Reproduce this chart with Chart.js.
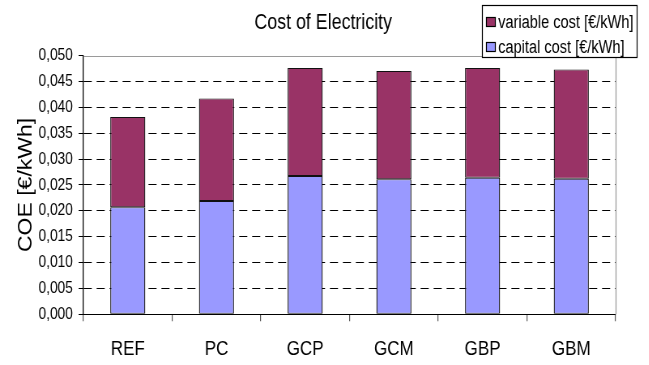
<!DOCTYPE html>
<html>
<head>
<meta charset="utf-8">
<script src="https://cdn.jsdelivr.net/npm/chart.js@4/dist/chart.umd.min.js"></script>
<style>
  body { margin: 0; background: #fff; }
  #wrap { width: 649px; height: 365px; overflow: hidden; }
  /* the original export is squeezed sideways, so draw wide and squeeze */
  #coeChart { transform: scaleX(0.81); transform-origin: 0 0; }
</style>
</head>
<body>
<div id="wrap"><canvas id="coeChart" width="801" height="365"></canvas></div>
<script>
// values (EUR per kWh)
var plants = ["REF", "PC", "GCP", "GCM", "GBP", "GBM"];
var capitalCost = [0.0207, 0.0219, 0.0267, 0.0261, 0.0264, 0.0262];
var variableCost = [0.0174, 0.0198, 0.0209, 0.0209, 0.0212, 0.0211];
var yTicks = [0, 0.005, 0.010, 0.015, 0.020, 0.025, 0.030, 0.035, 0.040, 0.045, 0.050];

var FONT = "'Liberation Sans', Arial, sans-serif";

// excel style title + boxed legend
var excelBits = {
    id: "excelBits",
    afterDraw: function(chart){
        var ctx = chart.ctx;
        ctx.save();
        ctx.fillStyle = "#000";
        ctx.font = "22px " + FONT;
        ctx.textAlign = "center";
        ctx.textBaseline = "middle";
        ctx.fillText("Cost of Electricity", 399, 23);

        // legend box
        var bx = 595, by = 5, bw = 191, bh = 52;
        ctx.fillStyle = "#fff";
        ctx.fillRect(bx, by, bw, bh);
        ctx.strokeStyle = "#000";
        ctx.lineWidth = 1.2;
        ctx.strokeRect(bx + 0.5, by + 0.5, bw, bh);
        var items = [
            {label: "variable cost [\u20ac/kWh]", color: "#993366"},
            {label: "capital cost [\u20ac/kWh]", color: "#9999FF"}
        ];
        ctx.font = "18px " + FONT;
        ctx.textAlign = "left";
        items.forEach(function(it, i){
            var y = by + 17 + i * 25;
            ctx.fillStyle = it.color;
            ctx.fillRect(bx + 5, y - 5, 12, 10);
            ctx.strokeStyle = "#000";
            ctx.lineWidth = 1.2;
            ctx.strokeRect(bx + 5.5, y - 4.5, 11, 9);
            ctx.fillStyle = "#000";
            ctx.fillText(it.label, bx + 20, y + 1);
        });
        ctx.restore();
    }
};

// gray top and right border of the plot area
var plotFrame = {
    id: "plotFrame",
    beforeDatasetsDraw: function(chart){
        var a = chart.chartArea, ctx = chart.ctx;
        ctx.save();
        ctx.strokeStyle = "#9a9a9a";
        ctx.lineWidth = 1.2;
        ctx.beginPath();
        ctx.moveTo(a.left, Math.round(a.top) + 0.5);
        ctx.lineTo(Math.round(a.right) + 0.5, Math.round(a.top) + 0.5);
        ctx.lineTo(Math.round(a.right) + 0.5, a.bottom);
        ctx.stroke();
        ctx.restore();
    }
};

var barEdge = { top: 1, bottom: 1, left: 1.3, right: 1.3 };

function drawChart(){
    const CHART = document.getElementById("coeChart");
    let coeChart = new Chart(CHART, {
        type: "bar",
        data: {
            labels: plants,
            datasets: [
                {
                    label: "capital cost [\u20ac/kWh]",
                    data: capitalCost,
                    backgroundColor: "#9999FF",
                    borderColor: "#111",
                    borderWidth: barEdge,
                    borderSkipped: false
                },
                {
                    label: "variable cost [\u20ac/kWh]",
                    data: variableCost,
                    backgroundColor: "#993366",
                    borderColor: "#111",
                    borderWidth: barEdge,
                    borderSkipped: false
                }
            ]
        },
        options: {
            responsive: false,
            animation: false,
            devicePixelRatio: 1,
            layout: { padding: { top: 55.5, right: 41, left: 0, bottom: 0 } },
            plugins: {
                legend: { display: false },
                tooltip: { enabled: false }
            },
            datasets: { bar: { categoryPercentage: 0.8, barPercentage: 0.494 } },
            scales: {
                x: {
                    stacked: true,
                    grid: {
                        offset: true,
                        drawOnChartArea: false,
                        color: "#555",
                        lineWidth: 1.2,
                        tickLength: 7
                    },
                    border: { color: "#000", width: 1 },
                    ticks: {
                        color: "#000",
                        font: { family: FONT, size: 21 },
                        padding: 15
                    },
                    afterFit: function(s){ s.height = 50.7; }
                },
                y: {
                    stacked: true,
                    min: 0,
                    max: 0.05,
                    afterBuildTicks: function(s){
                        s.ticks = yTicks.map(function(v){ return {value: v}; });
                    },
                    grid: {
                        color: function(c){ return c.index === yTicks.length - 1 ? "rgba(0,0,0,0)" : "#000"; },
                        lineWidth: 1,
                        tickLength: 6,
                        tickBorderDash: [],
                        tickColor: "#000"
                    },
                    border: { color: "#000", width: 1.3, dash: [10, 6] },
                    ticks: {
                        color: "#000",
                        font: { family: FONT, size: 17 },
                        padding: 7,
                        callback: function(v){ return Number(v).toFixed(3).replace(".", ","); }
                    },
                    title: {
                        display: true,
                        text: "COE [\u20ac/kWh]",
                        color: "#000",
                        font: { family: FONT, size: 23 },
                        padding: { top: 19, bottom: 0 }
                    },
                    afterFit: function(s){ s.width = 103; }
                }
            }
        },
        plugins: [plotFrame, excelBits]
    });
}

drawChart();
</script>
</body>
</html>
